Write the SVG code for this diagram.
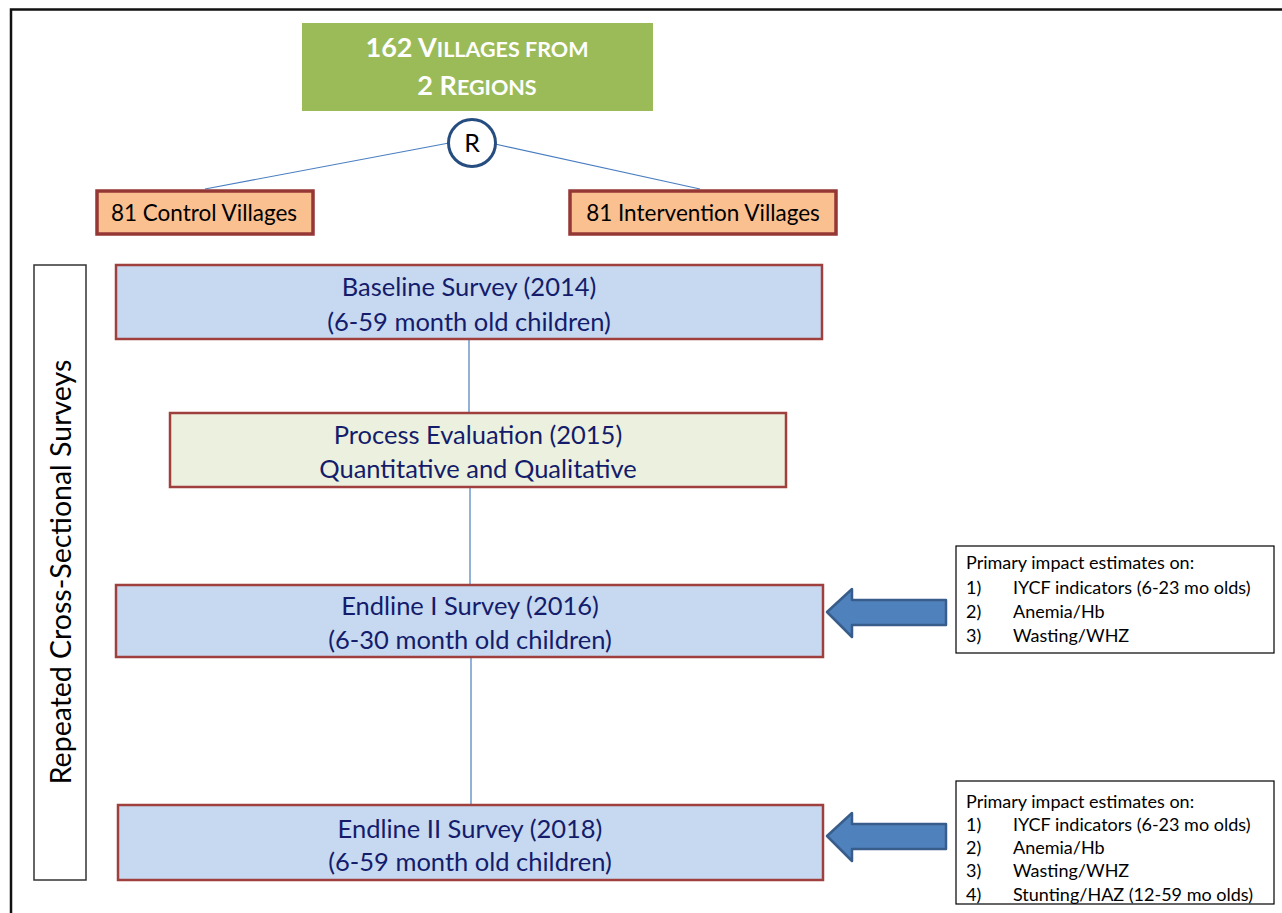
<svg xmlns="http://www.w3.org/2000/svg" width="1282" height="913" viewBox="0 0 1282 913">
<style>
text{font-family:Lato,"Open Sans","Liberation Sans",sans-serif}
.survey{fill:#C6D9F1;stroke:#A0403E;stroke-width:2.5}
.proc{fill:#EBF1DE;stroke:#A0403E;stroke-width:2.5}
.vill{fill:#FAC090;stroke:#953735;stroke-width:3.5}
.st{font-size:25.5px;fill:#141C6B;text-anchor:middle}
.vt{font-size:22.5px;fill:#000;text-anchor:middle}
.conn{stroke:#4A7EC0;stroke-width:1.2;fill:none}
.note{fill:#fff;stroke:#000;stroke-width:1.2}
.nt{font-size:18px;fill:#000}
.arrow{fill:#4F81BD;stroke:#385D8A;stroke-width:2.5;stroke-linejoin:round}
.title{font-size:27px;font-weight:bold;fill:#fff;text-anchor:middle}
.sc{font-size:21.5px}
</style>
<rect x="0" y="0" width="1282" height="913" fill="#fff"/>
<path d="M11,913 V9.5 H1282" fill="none" stroke="#111" stroke-width="2.5"/>
<g id="connectors">
<line class="conn" x1="449" y1="143" x2="205" y2="189"/>
<line class="conn" x1="495" y1="144" x2="700" y2="189"/>
<line class="conn" x1="469" y1="339" x2="469" y2="413"/>
<line class="conn" x1="470" y1="487" x2="470" y2="585"/>
<line class="conn" x1="471" y1="657" x2="471" y2="805"/>
</g>
<g id="title">
<rect x="302" y="23" width="351" height="88" fill="#9BBB59"/>
<text class="title" x="477" y="57">162 V<tspan class="sc">ILLAGES FROM</tspan></text>
<text class="title" x="477" y="95">2 R<tspan class="sc">EGIONS</tspan></text>
</g>
<g id="randomize">
<circle cx="472" cy="143" r="23.5" fill="#fff" stroke="#264D80" stroke-width="3"/>
<text x="472" y="152" font-size="25" text-anchor="middle" fill="#000">R</text>
</g>
<g id="control">
<rect class="vill" x="97" y="191" width="216" height="43"/>
<text class="vt" x="204" y="221">81 Control Villages</text>
</g>
<g id="intervention">
<rect class="vill" x="570" y="191" width="266" height="43"/>
<text class="vt" x="703" y="221">81 Intervention Villages</text>
</g>
<g id="side">
<rect x="34" y="265" width="52" height="615" fill="#fff" stroke="#333" stroke-width="1.5"/>
<text x="0" y="0" font-size="28.5" fill="#000" text-anchor="middle" transform="translate(71,572) rotate(-90)">Repeated Cross-Sectional Surveys</text>
</g>
<g id="baseline">
<rect class="survey" x="116" y="265" width="706" height="74"/>
<text class="st" x="469" y="296">Baseline Survey (2014)</text>
<text class="st" x="469" y="331">(6-59 month old children)</text>
</g>
<g id="process">
<rect class="proc" x="170" y="413" width="616" height="74"/>
<text class="st" x="478" y="444">Process Evaluation (2015)</text>
<text class="st" x="478" y="478">Quantitative and Qualitative</text>
</g>
<g id="endline1">
<rect class="survey" x="116" y="585" width="707" height="72"/>
<text class="st" x="470" y="615">Endline I Survey (2016)</text>
<text class="st" x="470" y="649">(6-30 month old children)</text>
</g>
<g id="endline2">
<rect class="survey" x="118" y="805" width="705" height="75"/>
<text class="st" x="470" y="838">Endline II Survey (2018)</text>
<text class="st" x="470" y="871">(6-59 month old children)</text>
</g>
<g id="arrow1">
<path class="arrow" d="M827,612 L852,589 V600 H946 V625 H852 V637 Z"/>
</g>
<g id="arrow2">
<path class="arrow" d="M827,836 L852,813 V824 H946 V849 H852 V861 Z"/>
</g>
<g id="note1">
<rect class="note" x="956" y="546" width="318" height="107"/>
<text class="nt" x="966" y="569">Primary impact estimates on:</text>
<text class="nt" x="966" y="594">1)</text><text class="nt" x="1013" y="594">IYCF indicators (6-23 mo olds)</text>
<text class="nt" x="966" y="618">2)</text><text class="nt" x="1013" y="618">Anemia/Hb</text>
<text class="nt" x="966" y="642">3)</text><text class="nt" x="1013" y="642">Wasting/WHZ</text>
</g>
<g id="note2">
<rect class="note" x="956" y="781" width="318" height="123"/>
<text class="nt" x="966" y="808">Primary impact estimates on:</text>
<text class="nt" x="966" y="831">1)</text><text class="nt" x="1013" y="831">IYCF indicators (6-23 mo olds)</text>
<text class="nt" x="966" y="854">2)</text><text class="nt" x="1013" y="854">Anemia/Hb</text>
<text class="nt" x="966" y="877">3)</text><text class="nt" x="1013" y="877">Wasting/WHZ</text>
<text class="nt" x="966" y="901">4)</text><text class="nt" x="1013" y="901">Stunting/HAZ (12-59 mo olds)</text>
</g>
</svg>
